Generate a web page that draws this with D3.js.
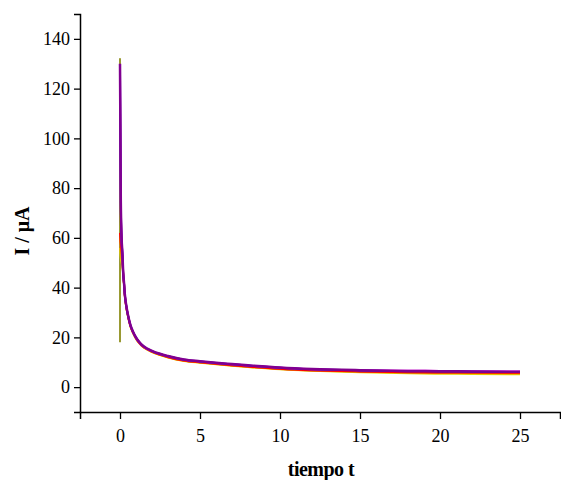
<!DOCTYPE html>
<html>
<head>
<meta charset="utf-8">
<script src="https://d3js.org/d3.v7.min.js"></script>
<style>
  body { margin: 0; background: #fff; }
</style>
</head>
<body>
<svg id="chart" width="561" height="480"></svg>
<script>
// time points shared by the curves (s)
var times = [0, 0.05, 0.1, 0.15, 0.2, 0.25, 0.3, 0.4, 0.5, 0.65, 0.8, 1, 1.25, 1.5, 2, 2.5, 3, 4, 5, 6, 7, 8, 10, 12, 15, 18, 20, 22, 25];
// olive run starts with a jump at t = 0
var oliveTimes = [0, 0, 0.05, 0.1, 0.15, 0.2, 0.25, 0.3, 0.4, 0.5, 0.65, 0.8, 1, 1.25, 1.5, 2, 2.5, 3, 4, 5, 6, 7, 8, 10, 12, 15, 18, 20, 22, 25];
var olive   = [18, 132, 74, 59, 53, 45.5, 41.5, 37, 32, 28.6, 24.6, 22.1, 19.6, 17.4, 15.9, 14.2, 13.0, 12.0, 10.6, 9.9, 9.3, 8.7, 8.2, 7.3, 6.7, 6.2, 5.8, 5.6, 5.5, 5.4];
var yellow  = [56, 52, 50, 49, 45.2, 41.2, 36.8, 31.8, 28.4, 24.4, 21.9, 19.4, 17.3, 15.8, 14.1, 12.9, 11.9, 10.5, 9.8, 9.2, 8.6, 8.1, 7.2, 6.6, 6.0, 5.6, 5.4, 5.3, 5.2];
var orange  = [60, 55, 52, 50, 45.5, 41.5, 37, 32, 28.6, 24.6, 22.1, 19.6, 17.4, 15.9, 14.2, 13.0, 12.0, 10.6, 9.9, 9.3, 8.7, 8.2, 7.3, 6.7, 6.2, 5.9, 5.8, 5.7, 5.6];
var red     = [62, 58, 55, 52, 45.6, 41.6, 37.1, 32.1, 28.7, 24.7, 22.2, 19.7, 17.5, 16.0, 14.3, 13.1, 12.1, 10.7, 10.0, 9.4, 8.8, 8.3, 7.4, 6.8, 6.3, 6.0, 5.9, 5.9, 5.8];
var magenta = [126, 74, 59, 53.5, 45.8, 41.8, 37.3, 32.3, 28.8, 24.8, 22.3, 19.8, 17.6, 16.1, 14.5, 13.3, 12.4, 11.0, 10.3, 9.7, 9.2, 8.7, 7.8, 7.2, 6.8, 6.6, 6.5, 6.4, 6.3];
var blue    = [128, 74, 59.5, 53.8, 45.9, 41.9, 37.4, 32.4, 28.9, 24.9, 22.4, 19.9, 17.7, 16.2, 14.5, 13.3, 12.4, 11.0, 10.3, 9.7, 9.2, 8.7, 7.8, 7.2, 6.7, 6.4, 6.3, 6.2, 6.1];
var purple  = [130, 75, 60, 54, 46, 42, 37.5, 32.5, 29, 25, 22.5, 20, 17.8, 16.3, 14.6, 13.4, 12.5, 11.1, 10.4, 9.8, 9.3, 8.8, 7.9, 7.3, 6.8, 6.5, 6.4, 6.3, 6.2];

var xTicks = [0, 5, 10, 15, 20, 25];
var yTicks = [0, 20, 40, 60, 80, 100, 120, 140];

var serif = "'Liberation Serif', 'Times New Roman', serif";
var svg = d3.select("#chart");
var x = d3.scaleLinear().domain([-2.5, 27.5]).range([80, 560]);
var y = d3.scaleLinear().domain([-10, 150]).range([412, 14]);

var smooth = d3.line()
    .x(function (d) { return x(d[0]); })
    .y(function (d) { return y(d[1]); })
    .curve(d3.curveMonotoneX);
var straight = d3.line()
    .x(function (d) { return x(d[0]); })
    .y(function (d) { return y(d[1]); });

var series = [
  { t: oliveTimes, v: olive,   color: "#808000", w: 1.6, gen: straight },
  { t: times,      v: yellow,  color: "#e6d200", w: 2, gen: smooth },
  { t: times,      v: orange,  color: "#e08000", w: 2, gen: smooth },
  { t: times,      v: red,     color: "#ff0000", w: 2, gen: smooth },
  { t: times,      v: magenta, color: "#ff00ff", w: 2, gen: smooth },
  { t: times,      v: blue,    color: "#2020c0", w: 2, gen: smooth },
  { t: times,      v: purple,  color: "#800090", w: 2.5, gen: smooth }
];

svg.append("g").selectAll("path")
  .data(series)
  .enter().append("path")
    .attr("fill", "none")
    .attr("stroke", function (d) { return d.color; })
    .attr("stroke-width", function (d) { return d.w; })
    .attr("stroke-linejoin", "round")
    .attr("d", function (d) { return d.gen(d.t.map(function (t, i) { return [t, d.v[i]]; })); });

// axes
var xAxis = svg.append("g").attr("transform", "translate(0,412)");
xAxis.call(d3.axisBottom(x).tickValues(d3.range(-2.5, 27.6, 2.5)).tickSize(4).tickFormat(""));
xAxis.call(d3.axisBottom(x).tickValues(xTicks).tickSize(7).tickPadding(10).tickFormat(d3.format("d")));

var yAxis = svg.append("g").attr("transform", "translate(80,0)");
yAxis.call(d3.axisLeft(y).tickValues(d3.range(-10, 151, 10)).tickSize(4).tickFormat(""));
yAxis.call(d3.axisLeft(y).tickValues(yTicks).tickSize(6).tickPadding(4).tickFormat(d3.format("d")));

xAxis.attr("font-family", serif).attr("font-size", 18);
yAxis.attr("font-family", serif).attr("font-size", 18);

svg.selectAll(".domain").attr("stroke", "#000").attr("stroke-width", 1.5);
svg.selectAll(".tick line").attr("stroke", "#000").attr("stroke-width", 1.3);
svg.selectAll(".tick text")
  .style("font-family", serif)
  .style("font-size", "18px")
  .attr("fill", "#000");

svg.append("text")
  .attr("x", 321).attr("y", 476)
  .attr("text-anchor", "middle")
  .style("font-family", serif)
  .style("font-size", "20px").style("font-weight", "bold")
  .attr("letter-spacing", -0.5)
  .text("tiempo t");

svg.append("text")
  .attr("transform", "translate(29,231) rotate(-90)")
  .attr("text-anchor", "middle")
  .style("font-family", serif)
  .style("font-size", "20px").style("font-weight", "bold")
  .text("I / μA");
</script>
</body>
</html>
